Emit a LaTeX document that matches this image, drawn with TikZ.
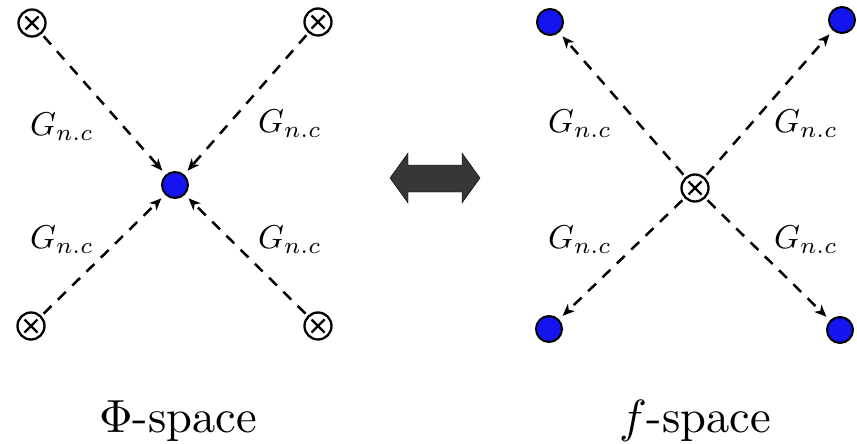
\documentclass[tikz,border=0pt]{standalone}
\usepackage{graphicx}
\usetikzlibrary{arrows.meta}
\definecolor{dotblue}{RGB}{20,20,240}
\definecolor{arrgray}{RGB}{55,55,55}
\newcommand{\glabtext}{\scalebox{3.3}{$G_{n.c}$}}
\tikzset{
  blob/.style={circle,draw=black,fill=dotblue,line width=2pt,minimum size=26pt,inner sep=0pt},
  cross/.style={circle,draw=black,line width=2.3pt,minimum size=27pt,inner sep=0pt,
    path picture={\draw[line width=2.3pt] (path picture bounding box.north west)++(7pt,-7pt) -- ++(13pt,-13pt);
      \draw[line width=2.3pt] (path picture bounding box.north east)++(-7pt,-7pt) -- ++(-13pt,-13pt);}},
  prop/.style={dash pattern=on 11pt off 9pt,line width=2.5pt,-{Stealth[length=12pt,width=10pt,inset=3.5pt]},shorten >=5pt,shorten <=3pt},
  glab/.style={inner sep=0pt},
  captext/.style={inner sep=0pt}
}
\begin{document}
\begin{tikzpicture}[x=1pt,y=-1pt]
\useasboundingbox (0,0) rectangle (857,444);
% left diagram
\node[cross] (l1) at (32,23) {};
\node[cross] (l2) at (318,22) {};
\node[cross] (l3) at (31,326) {};
\node[cross] (l4) at (318,326) {};
\node[blob] (lc) at (175,185) {};
\draw[prop] (l1) -- (lc);
\draw[prop] (l2) -- (lc);
\draw[prop] (l3) -- (lc);
\draw[prop] (l4) -- (lc);
\node[glab] (lg1) at (62,127) {\glabtext};
\node[glab] (lg2) at (290,124) {\glabtext};
\node[glab] (lg3) at (62,240) {\glabtext};
\node[glab] (lg4) at (290,240) {\glabtext};
% double arrow
\fill[arrgray,draw=black,line width=0.4pt] (390,178) -- (408,153) -- (408,165) -- (462,165) -- (462,153) -- (480,178) -- (462,203) -- (462,192) -- (408,192) -- (408,203) -- cycle;
% right diagram
\node[cross] (rc) at (695,188) {};
\node[blob] (r1) at (550,22) {};
\node[blob] (r2) at (842,20) {};
\node[blob] (r3) at (549,329) {};
\node[blob] (r4) at (840,330) {};
\draw[prop] (rc) -- (r1);
\draw[prop] (rc) -- (r2);
\draw[prop] (rc) -- (r3);
\draw[prop] (rc) -- (r4);
\node[glab] (rg1) at (580,124) {\glabtext};
\node[glab] (rg2) at (806,124) {\glabtext};
\node[glab] (rg3) at (580,240) {\glabtext};
\node[glab] (rg4) at (806,240) {\glabtext};
% captions
\node[captext,anchor=base] (cl) at (178,432) {\scalebox{4.65}{$\Phi$-space}};
\node[captext,anchor=base] (cr) at (695,432) {\scalebox{4.65}{$f$-space}};
\end{tikzpicture}
\end{document}
